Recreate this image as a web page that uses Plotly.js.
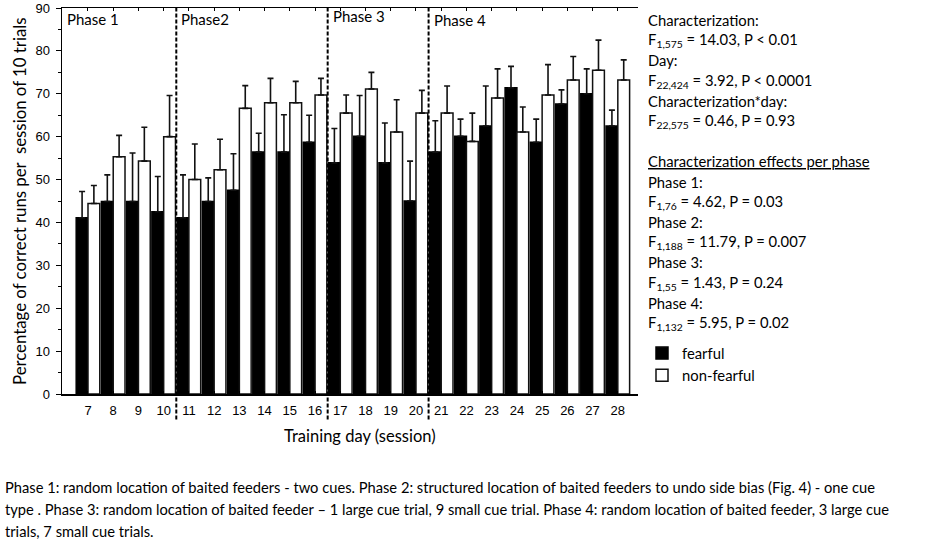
<!DOCTYPE html>
<html>
<head>
<meta charset="utf-8">
<script src="https://cdn.plot.ly/plotly-3.0.1.min.js"></script>
<style>
	body { margin: 0; background: #fff; }
	#chart { width: 936px; height: 542px; }
</style>
</head>
<body>
<div id="chart"></div>
<script>
// training days (sessions)
var days = [7, 8, 9, 10, 11, 12, 13, 14, 15, 16, 17, 18, 19, 20, 21, 22, 23, 24, 25, 26, 27, 28];

// mean % correct runs
var fearful    = [41.1, 44.9, 44.9, 42.5, 41.1, 44.9, 47.5, 56.4, 56.4, 58.7, 53.9, 60.1, 53.9, 45.0, 56.4, 60.1, 62.5, 71.4, 58.7, 67.6, 70.0, 62.5];
var nonFearful = [44.4, 55.3, 54.3, 60.0, 50.0, 52.3, 66.6, 67.9, 67.9, 69.7, 65.5, 71.1, 61.1, 65.5, 65.5, 58.9, 69.0, 61.1, 69.7, 73.2, 75.5, 73.2];

// upper error bars
var fearfulErr    = [6.1, 6.2, 11.3, 8.2, 10.0, 5.5, 8.5, 4.4, 8.7, 6.3, 8.0, 9.5, 9.3, 9.3, 7.3, 4.0, 9.3, 5.0, 5.4, 3.3, 5.8, 3.7];
var nonFearfulErr = [4.2, 5.0, 7.9, 9.6, 8.3, 7.1, 5.3, 5.7, 5.0, 3.9, 4.2, 3.9, 7.5, 5.3, 6.3, 6.6, 6.8, 5.8, 7.1, 5.5, 7.0, 4.7];

// phase boundaries (between days) and labels
var phaseBreaks = [10.5, 16.5, 20.5];
var phaseLabels = ["Phase 1", "Phase2", "Phase 3", "Phase 4"];

var statLines = [
	"Characterization:",
	"F<sub>1,575</sub> = 14.03, P &lt; 0.01",
	"Day:",
	"F<sub>22,424</sub> = 3.92, P &lt; 0.0001",
	"Characterization*day:",
	"F<sub>22,575</sub> = 0.46, P = 0.93",
	"",
	"<span style='text-decoration:underline'>Characterization effects per phase</span>",
	"Phase 1:",
	"F<sub>1,76</sub> = 4.62, P = 0.03",
	"Phase 2:",
	"F<sub>1,188</sub> = 11.79, P = 0.007",
	"Phase 3:",
	"F<sub>1,55</sub> = 1.43, P = 0.24",
	"Phase 4:",
	"F<sub>1,132</sub> = 5.95, P = 0.02"
];

var captionLines = [
	"Phase 1: random location of baited feeders - two cues. Phase 2: structured location of baited feeders to undo side bias (Fig. 4) - one cue",
	"type . Phase 3: random location of baited feeder \u2013 1 large cue trial, 9 small cue trial. Phase 4: random location of baited feeder, 3 large cue",
	"trials, 7 small cue trials."
];

var W = 936, H = 542;
var mL = 62, mR = 298, mT = 8, mB = 148;
var plotW = W - mL - mR, plotH = H - mT - mB;
var textFont = "Lato, 'Open Sans', sans-serif";

// pixel helpers for the text placed outside the axes
function px(x) { return (x - mL) / plotW; }
function py(y) { return (H - mB - y) / plotH; }

var trace1 = {
	x: days,
	y: fearful,
	name: "fearful",
	type: "bar",
	marker: { color: "#000", line: { color: "#000", width: 1.5 } },
	error_y: { type: "data", symmetric: false, array: fearfulErr, color: "#111", thickness: 1.6, width: 3 }
};

var trace2 = {
	x: days,
	y: nonFearful,
	name: "non-fearful",
	type: "bar",
	marker: { color: "#fff", line: { color: "#111", width: 1.5 } },
	error_y: { type: "data", symmetric: false, array: nonFearfulErr, color: "#111", thickness: 1.6, width: 3 }
};

var shapes = [];
for (var i = 0; i < phaseBreaks.length; i++) {
	shapes.push({
		type: "line", xref: "x", yref: "paper",
		x0: phaseBreaks[i], x1: phaseBreaks[i], y0: -0.066, y1: 1,
		line: { color: "#000", width: 2, dash: "4px,2px" }
	});
}

var annotations = [];
var phaseX = [null].concat(phaseBreaks);
var phaseY = [19, 19, 16, 20];
for (var i = 0; i < phaseLabels.length; i++) {
	annotations.push({
		text: phaseLabels[i],
		xref: i === 0 ? "paper" : "x", x: i === 0 ? 0 : phaseX[i], xshift: 3,
		yref: "paper", y: py(phaseY[i]),
		xanchor: "left", yanchor: "middle", showarrow: false,
		font: { family: textFont, size: 15, color: "#000" }
	});
}

var statY = 20;
for (var i = 0; i < statLines.length; i++) {
	if (statLines[i] !== "") {
		annotations.push({
			text: statLines[i],
			xref: "paper", x: px(646), yref: "paper", y: py(statY + i * 20.2),
			xanchor: "left", yanchor: "middle", showarrow: false,
			font: { family: textFont, size: 14.8, color: "#000" }
		});
	}
}

for (var i = 0; i < captionLines.length; i++) {
	annotations.push({
		text: captionLines[i],
		xref: "paper", x: px(3), yref: "paper", y: py(487 + i * 22),
		xanchor: "left", yanchor: "middle", showarrow: false,
		font: { family: textFont, size: 14.7, color: "#000" }
	});
}

// axis titles
annotations.push({
	text: "Percentage of correct runs per  session of 10 trials",
	xref: "paper", x: px(19), yref: "paper", y: 0.5, textangle: -90,
	xanchor: "center", yanchor: "middle", showarrow: false,
	font: { family: textFont, size: 16.8, color: "#000" }
});
annotations.push({
	text: "Training day (session)",
	xref: "paper", x: px(360), yref: "paper", y: py(436),
	xanchor: "center", yanchor: "middle", showarrow: false,
	font: { family: textFont, size: 16.5, color: "#000" }
});

var layout = {
	width: W,
	height: H,
	margin: { l: mL, r: mR, t: mT, b: mB, pad: 0 },
	paper_bgcolor: "#fff",
	plot_bgcolor: "#fff",
	barmode: "group",
	bargap: 0.065,
	bargroupgap: 0,
	showlegend: true,
	legend: {
		x: px(642), xanchor: "left",
		y: py(337), yanchor: "top",
		font: { family: textFont, size: 14.8, color: "#000" },
		bgcolor: "rgba(0,0,0,0)",
		tracegroupgap: 0
	},
	xaxis: {
		range: [5.97, 28.8],
		tickmode: "array",
		tickvals: days,
		ticktext: days.map(String),
		ticks: "inside",
		ticklen: 3,
		tickcolor: "#000",
		showline: true,
		linecolor: "#000",
		linewidth: 1.5,
		mirror: "ticks",
		showgrid: false,
		zeroline: false,
		ticklabelstandoff: 4,
		tickfont: { family: "'Liberation Sans', Arial, sans-serif", size: 13, color: "#000" }
	},
	yaxis: {
		range: [0, 90],
		dtick: 10,
		ticks: "outside",
		ticklen: 5,
		tickcolor: "#000",
		minor: { dtick: 5, ticks: "outside", ticklen: 3, tickcolor: "#000" },
		showline: true,
		linecolor: "#000",
		linewidth: 1.5,
		showgrid: false,
		zeroline: false,
		ticklabelstandoff: 3,
		tickfont: { family: "'Liberation Sans', Arial, sans-serif", size: 13, color: "#000" }
	},
	shapes: shapes,
	annotations: annotations
};

Plotly.newPlot("chart", [trace1, trace2], layout, { displayModeBar: false, staticPlot: true });
</script>
</body>
</html>
